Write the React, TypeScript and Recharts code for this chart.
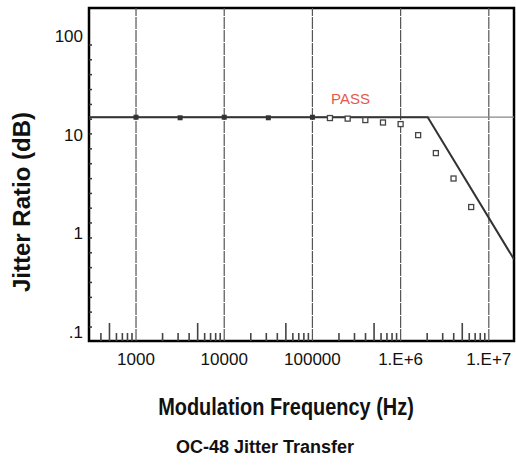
import React from 'react'
import {
  LineChart, Line, XAxis, YAxis, ReferenceLine, ReferenceArea,
} from 'recharts'

// axis ranges
const X_DOMAIN = [293, 1.93e7]
const Y_DOMAIN = [0.083, 199]

const xMajor = [1000, 10000, 100000, 1e6, 1e7]
const xMajorLabels = ['1000', '10000', '100000', '1.E+6', '1.E+7']
const xMinor = [
  400, 500, 600, 700, 800, 900,
  2000, 3000, 4000, 5000, 6000, 7000, 8000, 9000,
  20000, 30000, 40000, 50000, 60000, 70000, 80000, 90000,
  2e5, 3e5, 4e5, 5e5, 6e5, 7e5, 8e5, 9e5,
  2e6, 3e6, 4e6, 5e6, 6e6, 7e6, 8e6, 9e6,
]

const yMajor = [0.1, 1, 10, 100]
const yMajorLabels = ['.1', '1', '10', '100']
const yMinor = [
  83.9, 59.4, 41.9, 29.6, 20.9, 14.8, 10.5, 7.4, 5.23, 3.69,
  2.61, 1.85, 1.31, 0.923, 0.652, 0.461, 0.326, 0.23, 0.163, 0.115,
]

// mask (limit) line
const maskFreq = [293, 2.03e6, 1.93e7]
const maskRatio = [15.5, 15.5, 0.56]
const gridRatio = 15.5

// measured points
const lowFreq = [1000, 3162, 10000, 31623, 100000]
const lowRatio = [15.5, 15.3, 15.5, 15.3, 15.5]
const highFreq = [1.58e5, 2.51e5, 3.98e5, 6.31e5, 1e6, 1.58e6, 2.51e6, 3.98e6, 6.31e6]
const highRatio = [15.2, 15.0, 14.5, 13.7, 13.2, 10.2, 6.7, 3.7, 1.9]

const maskData = maskFreq.map((f, i) => ({ f, v: maskRatio[i] }))
const lowData = lowFreq.map((f, i) => ({ f, v: lowRatio[i] }))
const highData = highFreq.map((f, i) => ({ f, v: highRatio[i] }))

const font = "'Liberation Sans', Arial, sans-serif"

function XTick(props: any) {
  const { x, y, payload } = props
  const idx = xMajor.indexOf(payload.value)
  if (idx >= 0) {
    return (
      <text x={x} y={y + 24} textAnchor="middle" fontSize={17}
        fontFamily={font} fill="#111">{xMajorLabels[idx]}</text>
    )
  }
  const tall = String(payload.value).startsWith('5')
  return <line x1={x} x2={x} y1={y} y2={y - (tall ? 18 : 8)} stroke="#444" strokeWidth={1.6} />
}

function YTick(props: any) {
  const { x, y, payload } = props
  const idx = yMajor.indexOf(payload.value)
  if (idx >= 0) {
    return (
      <text x={x - 6} y={y + 5} textAnchor="end" fontSize={17}
        fontFamily={font} fill="#111">{yMajorLabels[idx]}</text>
    )
  }
  return <line x1={x} x2={x + 3} y1={y} y2={y} stroke="#333" strokeWidth={1.5} />
}

function FilledSquare(props: any) {
  const { cx, cy } = props
  if (cx == null || cy == null) return null
  return <rect x={cx - 2.5} y={cy - 2.5} width={5} height={5} fill="#333" />
}

function HollowSquare(props: any) {
  const { cx, cy } = props
  if (cx == null || cy == null) return null
  return <rect x={cx - 2.5} y={cy - 2.5} width={5} height={5} fill="#fff" stroke="#444" strokeWidth={1.3} />
}

export default function App() {
  return (
    <div style={{ position: 'absolute', left: 0, top: 0, width: 516, height: 466, background: '#fff' }}>
      <LineChart width={516} height={466} data={maskData}
        margin={{ top: 8, right: 2, left: 0, bottom: 0 }}>
        <XAxis dataKey="f" type="number" scale="log" domain={X_DOMAIN} allowDataOverflow
          ticks={[...xMajor, ...xMinor]} interval={0} tick={<XTick />}
          tickSize={0} tickMargin={0} tickLine={false} axisLine={false} height={125} />
        <YAxis dataKey="v" type="number" scale="log" domain={Y_DOMAIN} allowDataOverflow
          ticks={[...yMajor, ...yMinor]} interval={0} tick={<YTick />}
          tickSize={0} tickMargin={0} tickLine={false} axisLine={false} width={89} />
        {xMajor.map((f) => (
          <ReferenceLine key={f} x={f} stroke="#555" strokeWidth={1.2} strokeDasharray="12 1" />
        ))}
        <ReferenceLine y={gridRatio} stroke="#888" strokeWidth={1.2} />
        <Line data={maskData} dataKey="v" stroke="#333" strokeWidth={2} dot={false}
          isAnimationActive={false} type="linear" />
        <Line data={lowData} dataKey="v" stroke="none" dot={<FilledSquare />}
          isAnimationActive={false} />
        <Line data={highData} dataKey="v" stroke="none" dot={<HollowSquare />}
          isAnimationActive={false} />
        <ReferenceArea x1={X_DOMAIN[0]} x2={X_DOMAIN[1]} y1={Y_DOMAIN[0]} y2={Y_DOMAIN[1]}
          fill="none" stroke="#000" strokeWidth={2.5} />
      </LineChart>
      <div style={{ position: 'absolute', left: 331, top: 90, fontFamily: font, fontSize: 15, color: '#e5584b' }}>
        PASS
      </div>
      <div style={{
        position: 'absolute', left: 22, top: 202,
        transform: 'translate(-50%, -50%) rotate(-90deg)',
        whiteSpace: 'nowrap', fontFamily: font, fontWeight: 'bold', fontSize: 24, color: '#111',
      }}>
        Jitter Ratio (dB)
      </div>
      <div style={{
        position: 'absolute', left: 286, top: 407,
        transform: 'translate(-50%, -50%) scaleX(0.83)',
        whiteSpace: 'nowrap', fontFamily: font, fontWeight: 'bold', fontSize: 24, color: '#111',
      }}>
        Modulation Frequency (Hz)
      </div>
      <div style={{
        position: 'absolute', left: 265, top: 447, transform: 'translate(-50%, -50%)',
        whiteSpace: 'nowrap', fontFamily: font, fontWeight: 'bold', fontSize: 18, color: '#111',
      }}>
        OC-48 Jitter Transfer
      </div>
    </div>
  )
}
